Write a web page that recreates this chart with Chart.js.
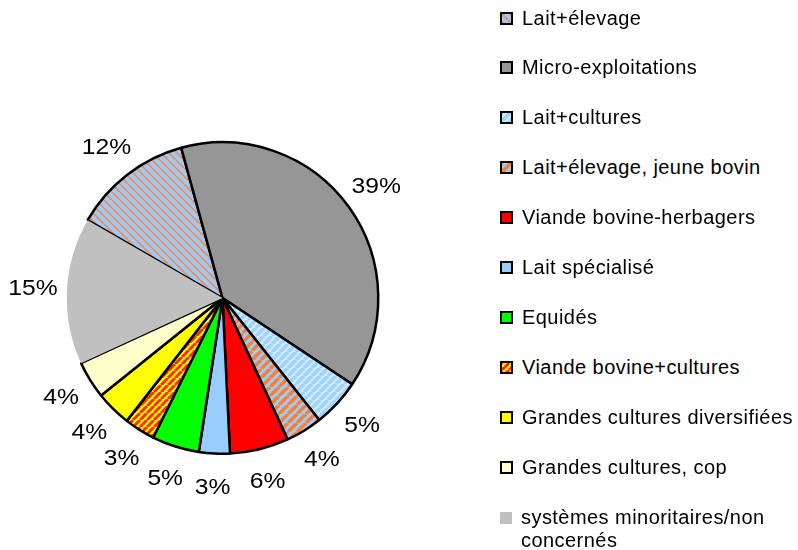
<!DOCTYPE html>
<html>
<head>
<meta charset="utf-8">
<script src="https://cdn.jsdelivr.net/npm/chart.js@4.4.0/dist/chart.umd.min.js"></script>
<style>
  body { margin: 0; width: 798px; height: 550px; background: #fff; position: relative; overflow: hidden;
         font-family: "Liberation Sans", Arial, sans-serif; }
  #pieBox { position: absolute; left: 0; top: 0; width: 445px; height: 550px; }
  #legend { position: absolute; left: 500px; top: 0; width: 298px; height: 550px; }
  .item { position: absolute; left: 0; display: flex; align-items: flex-start; }
  .item canvas { border: 2px solid #000; width: 9px; height: 9px; margin-top: 5px; flex: none; }
  .item canvas.noborder { border: none; width: 12px; height: 12px; margin-top: 6px; }
  .item span { margin-left: 9px; font-size: 20px; line-height: 23px; letter-spacing: 0.45px; color: #000; white-space: nowrap; }
</style>
</head>
<body>
<div id="pieBox"><canvas id="chart" width="445" height="550"></canvas></div>
<div id="legend"></div>
<script>
// categories, in the order of the legend (clockwise in the pie)
var categories = [
  "Lait+élevage",
  "Micro-exploitations",
  "Lait+cultures",
  "Lait+élevage, jeune bovin",
  "Viande bovine-herbagers",
  "Lait spécialisé",
  "Equidés",
  "Viande bovine+cultures",
  "Grandes cultures diversifiées",
  "Grandes cultures, cop",
  ["systèmes minoritaires/non", "concernés"]
];
// shares (%)
var shares = [12.4, 38.6, 5.0, 3.8, 6.1, 3.2, 4.9, 3.2, 3.7, 3.9, 15.2];
// labels printed next to the slices
var pctLabels = ["12%", "39%", "5%", "4%", "6%", "3%", "5%", "3%", "4%", "4%", "15%"];

// striped fills like the excel patterns
function stripes(bg, fg, size, width, dir) {
  var c = document.createElement("canvas");
  c.width = size;
  c.height = size;
  var g = c.getContext("2d");
  g.fillStyle = bg;
  g.fillRect(0, 0, size, size);
  g.strokeStyle = fg;
  g.lineWidth = width;
  for (var k = -1; k <= 1; k++) {
    g.beginPath();
    if (dir === "/") {
      g.moveTo(k * size, size);
      g.lineTo(k * size + size, 0);
    } else {
      g.moveTo(k * size, 0);
      g.lineTo(k * size + size, size);
    }
    g.stroke();
  }
  return g.createPattern(c, "repeat");
}

var fills = [
  stripes("#99CCFF", "#F0905A", 8, 2, "\\"),
  "#969696",
  stripes("#CCECFF", "#A3D2FF", 8, 3.5, "/"),
  stripes("#99CCFF", "#FF7F30", 9, 3.5, "/"),
  "#FF0000",
  "#99CCFF",
  "#00FF00",
  stripes("#FFFF00", "#FF2A00", 7, 3, "/"),
  "#FFFF00",
  "#FFFFCC",
  "#C0C0C0"
];
var borders = [2.5, 2.5, 2.5, 2.5, 2.5, 2.5, 2.5, 2.5, 2.5, 2.5, 0];

var pctPlugin = {
  id: "pct",
  afterDatasetsDraw: function (chart) {
    var ctx = chart.ctx;
    var arcs = chart.getDatasetMeta(0).data;
    ctx.save();
    ctx.font = "22px 'Liberation Sans', Arial, sans-serif";
    ctx.fillStyle = "#000";
    ctx.textAlign = "center";
    ctx.textBaseline = "middle";
    arcs.forEach(function (arc, i) {
      var p = arc.getProps(["x", "y", "startAngle", "endAngle", "outerRadius"], true);
      var mid = (p.startAngle + p.endAngle) / 2;
      var r = p.outerRadius + 34;
      var x = p.x + Math.cos(mid) * r;
      var y = p.y + Math.sin(mid) * r;
      ctx.save();
      ctx.translate(x, y);
      ctx.scale(1.12, 1);
      ctx.fillText(pctLabels[i], 0, 0);
      ctx.restore();
    });
    ctx.restore();
  }
};

new Chart(document.getElementById("chart").getContext("2d"), {
  type: "pie",
  data: {
    labels: categories,
    datasets: [{
      data: shares,
      backgroundColor: fills,
      borderColor: "#000",
      borderWidth: borders,
      hoverOffset: 0
    }]
  },
  options: {
    responsive: false,
    animation: false,
    rotation: -60,
    layout: { padding: { left: 65, top: 141, right: 65, bottom: 95 } },
    plugins: {
      legend: { display: false },
      tooltip: { enabled: false }
    }
  },
  plugins: [pctPlugin]
});

// legend on the right
var legend = document.getElementById("legend");
categories.forEach(function (name, i) {
  var item = document.createElement("div");
  item.className = "item";
  item.style.top = (6.5 + 49.9 * i) + "px";
  var sw = document.createElement("canvas");
  sw.width = borders[i] ? 9 : 12;
  sw.height = borders[i] ? 9 : 12;
  if (!borders[i]) sw.className = "noborder";
  var g = sw.getContext("2d");
  g.fillStyle = fills[i];
  g.fillRect(0, 0, sw.width, sw.height);
  var txt = document.createElement("span");
  txt.innerHTML = Array.isArray(name) ? name.join("<br>") : name;
  item.appendChild(sw);
  item.appendChild(txt);
  legend.appendChild(item);
});
</script>
</body>
</html>
